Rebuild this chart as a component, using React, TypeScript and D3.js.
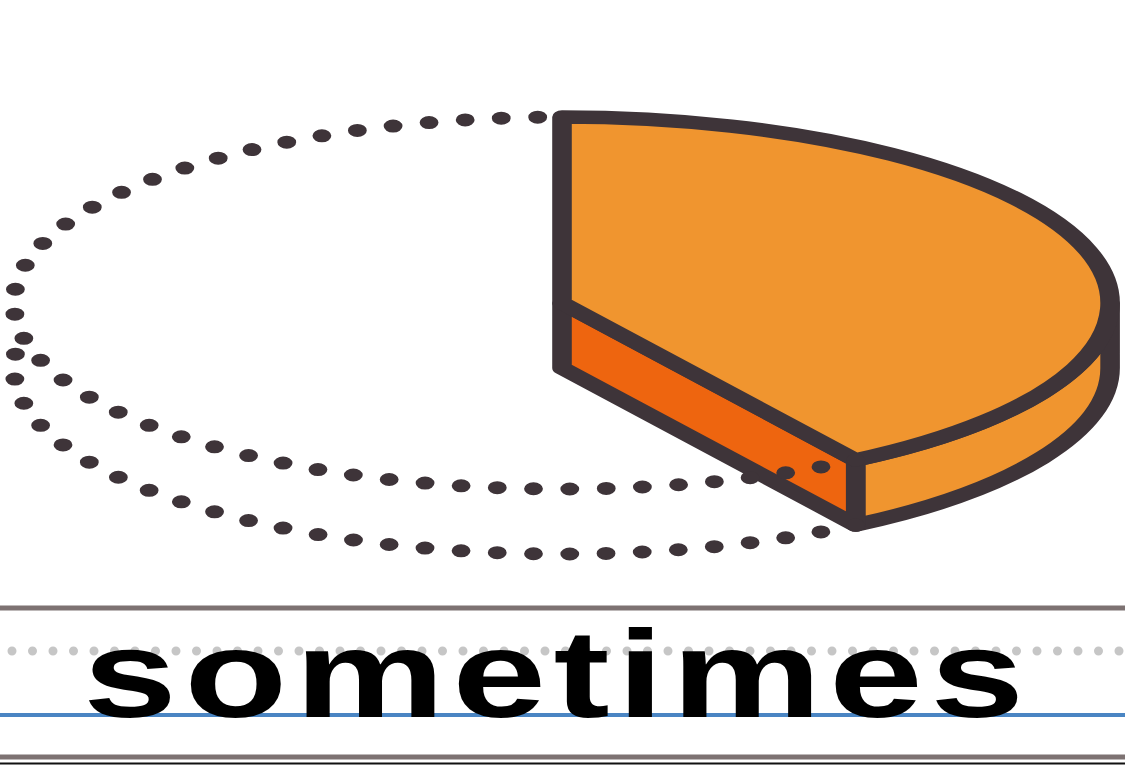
import { useMemo } from "react";
import * as d3 from "d3";

// share of answers, first one is the highlighted slice
const categories = ["sometimes", "other"];
const shares = [41, 59];

const W = 1125;
const H = 765;
const ink = "#3e3439";
const topFill = "#f0952f";
const cutFill = "#ee650f";

export default function App() {
  // drawing is squashed horizontally then stretched by sx, like the source art
  const sx = 1.45;
  const cx = 562;
  const cy = 303;
  const rx = 378;
  const ry = 186;
  const depth = 65;
  const stroke = 13.5;

  const { top, wall, cut, dotsTop, dotsBottom } = useMemo(() => {
    const arcs = d3.pie<number>().sort(null)(shares);
    const slice = arcs[0];
    const a0 = slice.startAngle;
    const a1 = slice.endAngle;

    const pt = (a: number, dy = 0) => [rx * Math.sin(a), -ry * Math.cos(a) + dy];
    const arcTo = (from: number, to: number, dy = 0) => {
      const [x, y] = pt(to, dy);
      const large = Math.abs(to - from) > Math.PI ? 1 : 0;
      const sweep = to > from ? 1 : 0;
      return `A${rx},${ry} 0 ${large} ${sweep} ${x},${y}`;
    };

    const [sx0, sy0] = pt(a0);
    const [ex, ey] = pt(a1);
    const [ebx, eby] = pt(a1, depth);

    const top = `M0,0L${sx0},${sy0}${arcTo(a0, a1)}Z`;
    const right = Math.PI / 2;
    const [rx0, ry0] = pt(right);
    const wall =
      a1 > right
        ? `M${rx0},${ry0}${arcTo(right, a1)}L${ebx},${eby}${arcTo(a1, right, depth)}Z`
        : "";
    const cut = `M0,0L${ex},${ey}L${ebx},${eby}L0,${depth}Z`;

    const dotsTop = `M${ex},${ey}${arcTo(a1, 2 * Math.PI)}`;
    const lowEnd = (280 / 180) * Math.PI;
    const dotsBottom = `M${ebx},${eby}${arcTo(a1, lowEnd, depth)}`;

    return { top, wall, cut, dotsTop, dotsBottom };
  }, []);

  const x = d3.scaleLinear().domain([0, 1]).range([0, W]);

  return (
    <svg
      width={W}
      height={H}
      viewBox={`0 0 ${W} ${H}`}
      style={{ position: "absolute", left: 0, top: 0, background: "#fff" }}
    >
      <g transform={`translate(${cx},${cy}) scale(${sx},1)`} strokeLinejoin="round" strokeLinecap="round">
        {wall && <path d={wall} fill={topFill} stroke={ink} strokeWidth={stroke} />}
        <path d={cut} fill={cutFill} stroke={ink} strokeWidth={stroke} />
        <path d={top} fill={topFill} stroke={ink} strokeWidth={stroke} />
        <path d={dotsTop} fill="none" stroke={ink} strokeWidth={13} strokeDasharray="0 25" />
        <path d={dotsBottom} fill="none" stroke={ink} strokeWidth={13} strokeDasharray="0 25" />
      </g>

      {/* handwriting rules */}
      <line x1={x(0)} x2={x(1)} y1={608} y2={608} stroke="#7d7272" strokeWidth={5} />
      <line
        x1={12}
        x2={x(1)}
        y1={651}
        y2={651}
        stroke="#c6c6c6"
        strokeWidth={9}
        strokeLinecap="round"
        strokeDasharray="0 20.5"
      />
      <line x1={x(0)} x2={x(1)} y1={715} y2={715} stroke="#4a85c3" strokeWidth={4} />
      <line x1={x(0)} x2={x(1)} y1={757} y2={757} stroke="#7d7272" strokeWidth={5} />
      <line x1={x(0)} x2={x(1)} y1={763.5} y2={763.5} stroke="#111" strokeWidth={2} />

      <text
        transform="translate(83,717) scale(1.35,1)"
        letterSpacing={5.5}
        fontFamily="'Liberation Sans', Arial, sans-serif"
        fontWeight="bold"
        fontSize={125}
        fill="#000"
      >
        {categories[0]}
      </text>
    </svg>
  );
}
